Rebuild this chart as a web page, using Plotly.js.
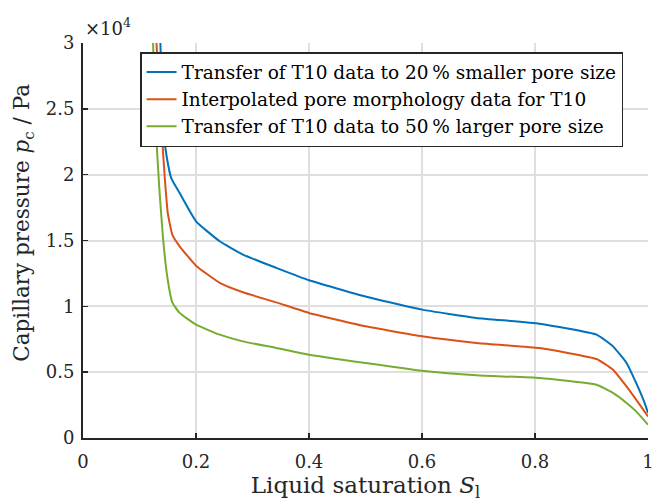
<!DOCTYPE html>
<html><head><meta charset="utf-8">
<script src="https://cdn.plot.ly/plotly-3.0.1.min.js"></script>
<style>html,body{margin:0;padding:0;background:#fff}</style>
</head><body><div id="chart" style="width:655px;height:503px"></div>
<script>
// Liquid saturation S_l and capillary pressure in units of 10^4 Pa
const names = [
  "Transfer of T10 data to 20\u2009% smaller pore size",
  "Interpolated pore morphology data for T10",
  "Transfer of T10 data to 50\u2009% larger pore size"
];
const xSmaller = [0.134, 0.137, 0.142, 0.148, 0.156, 0.171, 0.2, 0.242, 0.283, 0.342, 0.4, 0.5, 0.6, 0.696, 0.808, 0.909, 0.938, 0.962, 0.979, 0.994, 1.0];
const ySmaller = [3.6, 3.0, 2.34, 2.14, 1.976, 1.86, 1.646, 1.494, 1.393, 1.292, 1.198, 1.075, 0.975, 0.912, 0.868, 0.785, 0.696, 0.57, 0.418, 0.266, 0.19];
const xInterp = [0.127, 0.130, 0.139, 0.145, 0.150, 0.158, 0.171, 0.2, 0.242, 0.283, 0.342, 0.4, 0.5, 0.6, 0.696, 0.808, 0.909, 0.938, 0.962, 0.979, 1.0];
const yInterp = [3.6, 3.0, 2.34, 1.96, 1.71, 1.545, 1.456, 1.309, 1.178, 1.107, 1.03, 0.95, 0.848, 0.772, 0.722, 0.683, 0.60, 0.519, 0.392, 0.291, 0.164];
const xLarger = [0.121, 0.124, 0.129, 0.135, 0.142, 0.150, 0.158, 0.171, 0.2, 0.242, 0.283, 0.342, 0.4, 0.5, 0.6, 0.696, 0.808, 0.909, 0.938, 0.962, 0.979, 1.0];
const yLarger = [3.6, 3.0, 2.34, 1.9, 1.5, 1.2, 1.03, 0.95, 0.861, 0.785, 0.734, 0.684, 0.633, 0.57, 0.511, 0.476, 0.456, 0.405, 0.342, 0.266, 0.202, 0.101];
const xTicks = [0, 0.2, 0.4, 0.6, 0.8, 1];
const xTickText = ["0", "0.2", "0.4", "0.6", "0.8", "1"];
const yTicks = [0, 0.5, 1, 1.5, 2, 2.5, 3];
const yTickText = ["0", "0.5", "1", "1.5", "2", "2.5", "3"];
const colors = ["#0072BD", "#D95319", "#77AC30"];

const FONT = "DejaVu Serif, serif";
const traces = [
  {x: xSmaller, y: ySmaller, name: names[0]},
  {x: xInterp, y: yInterp, name: names[1]},
  {x: xLarger, y: yLarger, name: names[2]}
].map((t, i) => Object.assign(t, {type: "scatter", mode: "lines", line: {color: colors[i], width: 2, shape: "spline", smoothing: 0.4}}));

const layout = {
  width: 655, height: 503,
  margin: {l: 83, r: 7, t: 43, b: 65},
  paper_bgcolor: "#fff", plot_bgcolor: "#fff",
  font: {family: FONT, size: 18, color: "#262626"},
  showlegend: true,
  legend: {x: 0.101, y: 0.977, xanchor: "left", yanchor: "top", bgcolor: "#fff", bordercolor: "#262626", borderwidth: 1.5,
           font: {family: FONT, size: 18.5, color: "#000"}, itemwidth: 30, tracegroupgap: 0},
  xaxis: {range: [0, 1], tickvals: xTicks, ticktext: xTickText, showgrid: true, gridcolor: "#dfdfdf", gridwidth: 2,
          showline: true, linecolor: "#262626", linewidth: 2, ticks: "inside", ticklen: 5, tickwidth: 1.5, tickcolor: "#262626",
          ticklabelstandoff: 6,
          zeroline: false, title: {text: "Liquid saturation <i>S</i><sub>l</sub>", font: {family: FONT, size: 23, color: "#262626"}, standoff: 6},
          tickfont: {family: FONT, size: 18, color: "#262626"}},
  yaxis: {range: [0, 3], tickvals: yTicks, ticktext: yTickText, showgrid: true, gridcolor: "#dfdfdf", gridwidth: 2,
          showline: true, linecolor: "#262626", linewidth: 2, ticks: "inside", ticklen: 5, tickwidth: 1.5, tickcolor: "#262626",
          ticklabelstandoff: 3,
          zeroline: false, title: {text: ""},
          tickfont: {family: FONT, size: 18, color: "#262626"}},
  annotations: [
    {xref: "paper", yref: "paper", x: 0, y: 1, xanchor: "left", yanchor: "bottom", xshift: 0, yshift: 2,
     text: "\u00d710<sup>4</sup>", showarrow: false, font: {family: FONT, size: 18, color: "#262626"}},
    {xref: "paper", yref: "paper", x: -0.1044, y: 0.545, xanchor: "center", yanchor: "middle", textangle: -90,
     text: "Capillary pressure <i>p</i><sub>c</sub> / Pa", showarrow: false, font: {family: FONT, size: 21.5, color: "#262626"}}
  ]
};
Plotly.newPlot("chart", traces, layout, {displayModeBar: false, staticPlot: true});
</script></body></html>
